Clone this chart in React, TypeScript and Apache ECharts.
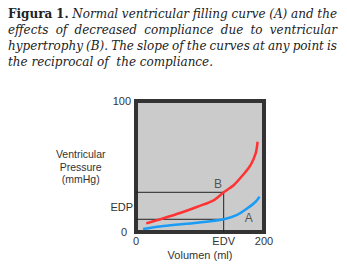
import React, { useEffect, useRef } from 'react';
import * as echarts from 'echarts';

// Curve B (decreased compliance, hypertrophy)
const volumeB = [16, 43, 70, 96, 122, 137, 153, 168, 179, 187, 190];
const pressureB = [6.6, 10.5, 14.7, 19.3, 24.4, 30.3, 35.9, 44, 51.1, 60, 68.9];
// Curve A (normal filling)
const volumeA = [11, 43, 96, 137, 158, 174, 187, 193];
const pressureA = [2.3, 4.6, 7.1, 9.7, 13, 18.1, 23.1, 27];

const EDV = 137;
const EDP_B = 30.3;
const EDP_A = 9.7;

const xTicks = [0, EDV, 200];
const xTickLabels = ['0', 'EDV', '200'];
const yTicks = [0, 19, 100];
const yTickLabels = ['0', 'EDP', '100'];

const curveLabelNames = ['B', 'A'];
const curveLabelVolumes = [128, 176];
const curveLabelPressures = [37, 10.5];

const titleLines: { words: { t: string; bold?: boolean }[]; justify: boolean }[] = [
  {
    words: [
      { t: 'Figura', bold: true },
      { t: '1.', bold: true },
      { t: 'Normal' },
      { t: 'ventricular' },
      { t: 'filling' },
      { t: 'curve' },
      { t: '(A)' },
      { t: 'and' },
      { t: 'the' },
    ],
    justify: true,
  },
  {
    words: 'effects of decreased compliance due to ventricular'.split(' ').map((t) => ({ t })),
    justify: true,
  },
  {
    words: 'hypertrophy (B). The slope of the curves at any point is'.split(' ').map((t) => ({ t })),
    justify: true,
  },
  { words: [{ t: 'the reciprocal of  the compliance.' }], justify: false },
];

const TITLE_FONT = '"DejaVu Serif", serif';
const TITLE_SIZE = 12;
const SANS = '"Liberation Sans", Arial, sans-serif';

function buildTitle(): any[] {
  const canvas = document.createElement('canvas');
  const ctx = canvas.getContext('2d')!;
  const x0 = 8;
  const target = 329;
  const lineY = [14, 30, 46, 61.5];
  const out: any[] = [];
  titleLines.forEach((line, li) => {
    const widths = line.words.map((w) => {
      ctx.font = `${w.bold ? 'normal bold' : 'italic normal'} ${TITLE_SIZE}px ${TITLE_FONT}`;
      return ctx.measureText(w.t).width;
    });
    ctx.font = `italic normal ${TITLE_SIZE}px ${TITLE_FONT}`;
    const space = ctx.measureText(' ').width;
    const W = widths.reduce((a, b) => a + b, 0);
    const n = line.words.length;
    let gap = space;
    if (line.justify && n > 1) gap = Math.max((target - W) / (n - 1), space * 0.6);
    const total = W + gap * (n - 1);
    const scale = line.justify ? Math.min(1, target / total) : 1;
    const children: any[] = [];
    let cx = 0;
    line.words.forEach((w, i) => {
      children.push({
        type: 'text',
        x: cx,
        y: 0,
        style: {
          text: w.t,
          fontFamily: TITLE_FONT,
          fontSize: TITLE_SIZE,
          fontStyle: w.bold ? 'normal' : 'italic',
          fontWeight: w.bold ? 'bold' : 'normal',
          fill: '#222',
          textAlign: 'left',
          textVerticalAlign: 'middle',
        },
      });
      cx += widths[i] + gap;
    });
    out.push({ type: 'group', x: x0, y: lineY[li], scaleX: scale, children });
  });
  return out;
}

export default function App() {
  const ref = useRef<HTMLDivElement>(null);
  useEffect(() => {
    document.body.style.margin = '0';
    const chart = echarts.init(ref.current!, null, { renderer: 'svg' });
    const option: any = {
      animation: false,
      backgroundColor: '#ffffff',
      textStyle: { fontFamily: SANS },
      graphic: buildTitle(),
      grid: {
        left: 136,
        top: 101,
        width: 128,
        height: 131,
        show: true,
        backgroundColor: '#cbcbcb',
        borderColor: '#333333',
        borderWidth: 4,
      },
      xAxis: {
        type: 'value',
        min: 0,
        max: 200,
        axisLine: { show: false },
        axisTick: { show: false },
        splitLine: { show: false },
        axisLabel: {
          customValues: xTicks,
          formatter: (v: number) => xTickLabels[xTicks.indexOf(v)] ?? '',
          fontFamily: SANS,
          fontSize: 11,
          color: '#333',
          margin: 3,
          showMinLabel: true,
          showMaxLabel: true,
        },
        name: 'Volumen (ml)',
        nameLocation: 'middle',
        nameGap: 17,
        nameTextStyle: { fontFamily: SANS, fontSize: 11, color: '#333' },
      },
      yAxis: {
        type: 'value',
        min: 0,
        max: 100,
        axisLine: { show: false },
        axisTick: { show: false },
        splitLine: { show: false },
        axisLabel: {
          customValues: yTicks,
          formatter: (v: number) => {
            const s = yTickLabels[yTicks.indexOf(v)] ?? '';
            if (s === '0') return '{z|' + s + '}';
            if (s === '100') return '{h|' + s + '}';
            return '{e|' + s + '}';
          },
          rich: {
            z: { fontFamily: SANS, fontSize: 11, color: '#333', padding: [0, 6, 0, 0] },
            h: { fontFamily: SANS, fontSize: 11, color: '#333', padding: [0, 2, 0, 0] },
            e: { fontFamily: SANS, fontSize: 11, color: '#333', padding: [0, 0, 0, 0] },
          },
          margin: 3,
          showMinLabel: true,
          showMaxLabel: true,
        },
        name: 'Ventricular\nPressure\n(mmHg)',
        nameLocation: 'middle',
        nameRotate: 0,
        nameGap: 46,
        nameTextStyle: {
          fontFamily: SANS,
          fontSize: 10.5,
          color: '#333',
          align: 'center',
          verticalAlign: 'middle',
          lineHeight: 12.5,
          padding: [0, 0, 20, 0],
        },
      },
      series: [
        {
          type: 'line',
          data: [
            [0, EDP_B],
            [EDV, EDP_B],
            [EDV, 0],
          ],
          symbol: 'none',
          lineStyle: { color: '#222', width: 1 },
          silent: true,
          z: 1,
        },
        {
          type: 'line',
          data: [
            [0, EDP_A],
            [EDV, EDP_A],
          ],
          symbol: 'none',
          lineStyle: { color: '#222', width: 1 },
          silent: true,
          z: 1,
        },
        {
          type: 'line',
          name: 'B',
          data: volumeB.map((v, i) => [v, pressureB[i]]),
          symbol: 'none',
          smooth: 0.3,
          lineStyle: { color: '#ff3333', width: 2.5 },
          z: 3,
        },
        {
          type: 'line',
          name: 'A',
          data: volumeA.map((v, i) => [v, pressureA[i]]),
          symbol: 'none',
          smooth: 0.3,
          lineStyle: { color: '#1a9cf5', width: 2.5 },
          z: 3,
        },
        {
          type: 'scatter',
          symbolSize: 0,
          data: curveLabelNames.map((n, i) => ({
            name: n,
            value: [curveLabelVolumes[i], curveLabelPressures[i]],
          })),
          label: {
            show: true,
            position: 'inside',
            formatter: (p: any) => p.name,
            fontFamily: SANS,
            fontSize: 12,
            color: '#333',
          },
          silent: true,
          z: 4,
        },
      ],
    };
    chart.setOption(option);
    return () => chart.dispose();
  }, []);
  return <div ref={ref} style={{ width: 347, height: 275 }} />;
}
